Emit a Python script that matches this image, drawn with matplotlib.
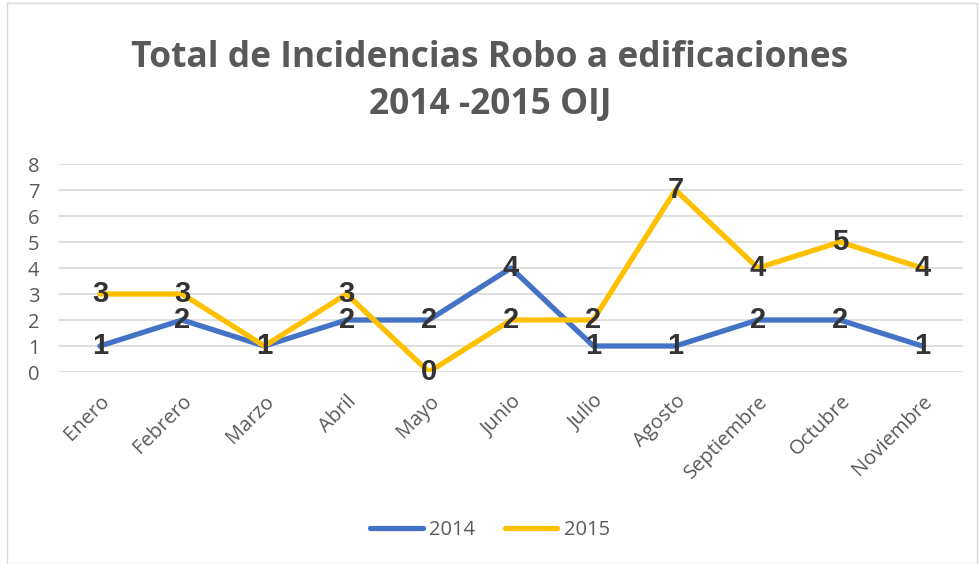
import matplotlib.pyplot as plt
from matplotlib.patches import Rectangle

meses = ['Enero', 'Febrero', 'Marzo', 'Abril', 'Mayo', 'Junio', 'Julio',
         'Agosto', 'Septiembre', 'Octubre', 'Noviembre']
v2014 = [1, 2, 1, 2, 2, 4, 1, 1, 2, 2, 1]
v2015 = [3, 3, 1, 3, 0, 2, 2, 7, 4, 5, 4]

azul = '#4472C4'
oro = '#FFC000'
gris = '#595959'

plt.rcParams['font.family'] = ['Open Sans', 'DejaVu Sans']

fig = plt.figure(figsize=(9.8, 5.64), dpi=100)
ax = fig.add_axes([0.060, 1 - 372 / 564, 0.923, 208 / 564])

x = list(range(len(meses)))
ax.plot(x, v2014, color=azul, lw=3.8, label='2014', solid_capstyle='round', zorder=3)
ax.plot(x, v2015, color=oro, lw=3.8, label='2015', solid_capstyle='round', zorder=3)

# etiquetas de datos
for serie in (v2014, v2015):
    for xi, v in zip(x, serie):
        ax.text(xi, v, str(v), ha='center', va='center', fontsize=21,
                fontweight='bold', color='#333333', family='Liberation Sans', zorder=4)

ax.set_xlim(-0.5, len(meses) - 0.5)
ax.set_ylim(0, 8)
ax.set_yticks(range(0, 9))
ax.grid(axis='y', color='#D9D9D9', lw=1.2)
ax.set_axisbelow(True)
for s in ax.spines.values():
    s.set_visible(False)
ax.tick_params(length=0)
ax.tick_params(axis='y', labelsize=14.5, labelcolor=gris, pad=14)
ax.set_xticks(x)
ax.set_xticklabels(meses, rotation=45, ha='right', rotation_mode='anchor',
                   fontsize=14.5, color=gris)
ax.tick_params(axis='x', pad=14)

fig.text(0.5, 0.855, 'Total de Incidencias Robo a edificaciones\n2014 -2015 OIJ',
         ha='center', va='center', fontsize=25.5, fontweight='bold', color=gris,
         linespacing=1.42)

leg = fig.legend(loc='center', bbox_to_anchor=(0.5, 0.06), ncol=2, frameon=False,
                 fontsize=14.5, handlelength=2.6, columnspacing=1.5, handletextpad=0.3)
for t in leg.get_texts():
    t.set_color(gris)

fig.patches.append(Rectangle((0.007, 0.0), 0.99, 0.995, transform=fig.transFigure,
                             fill=False, edgecolor='#D9D9D9', lw=1))

plt.savefig('out.png', dpi=100)
